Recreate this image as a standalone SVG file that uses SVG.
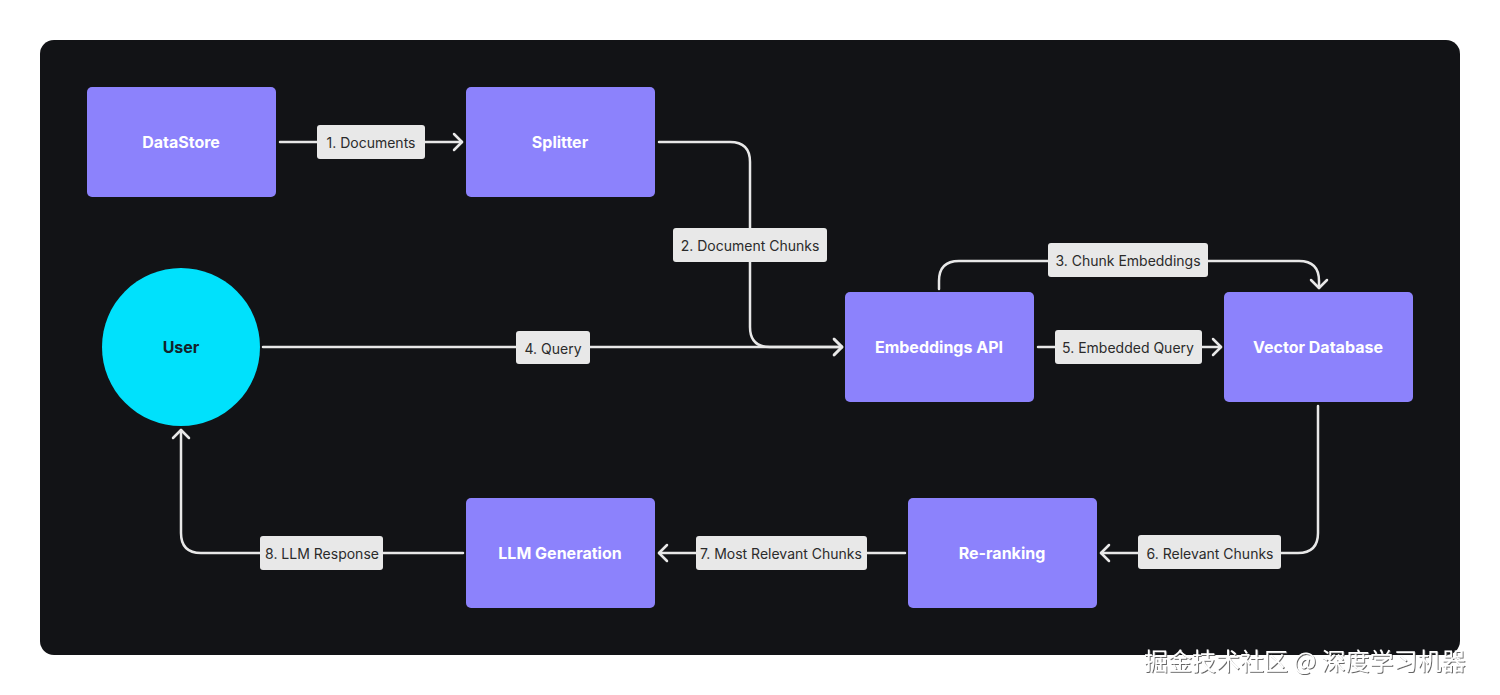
<svg xmlns="http://www.w3.org/2000/svg" width="1500" height="695" viewBox="0 0 1500 695">
<defs>
<style>
.node rect{fill:#8c82fc}
.ntxt{font-family:Inter,"Liberation Sans",sans-serif;font-weight:700;font-size:16px;fill:#ffffff;text-anchor:middle;dominant-baseline:central}
.edge{fill:none;stroke:#e8e8e8;stroke-width:2.5;stroke-linecap:round;stroke-linejoin:round}
.lbl rect{fill:#e8e8e8}
.ltxt{font-family:Inter,"Liberation Sans",sans-serif;font-size:14px;fill:#2b2b2b;text-anchor:middle;dominant-baseline:central}
.wm{font-family:"Noto Sans CJK SC",sans-serif;font-size:24px;fill:#ffffff}
</style>
<marker id="arr" markerUnits="userSpaceOnUse" markerWidth="20" markerHeight="20" refX="12" refY="10" orient="auto">
<path d="M4,2 L12,10 L4,18" fill="none" stroke="#e8e8e8" stroke-width="2.5" stroke-linecap="round" stroke-linejoin="round"/>
</marker>
<filter id="sh" x="-5%" y="-20%" width="110%" height="140%">
<feDropShadow dx="1" dy="1" stdDeviation="0.6" flood-color="#555555" flood-opacity="0.9"/>
</filter>
</defs>
<rect width="1500" height="695" fill="#ffffff"/>
<rect x="40" y="40" width="1420" height="615" rx="14" fill="#121316"/>

<g id="connectors">
<path class="edge" d="M280,142 H462" marker-end="url(#arr)"/>
<path class="edge" d="M659,142 H730 Q750,142 750,162 V327 Q750,347 770,347 H842" marker-end="url(#arr)"/>
<path class="edge" d="M263,347 H842" marker-end="url(#arr)"/>
<path class="edge" d="M939,289 V281 Q939,261 959,261 H1299 Q1319,261 1319,281 V288" marker-end="url(#arr)"/>
<path class="edge" d="M1038,347 H1221" marker-end="url(#arr)"/>
<path class="edge" d="M1318,406 V533 Q1318,553 1298,553 H1101" marker-end="url(#arr)"/>
<path class="edge" d="M905,553 H659" marker-end="url(#arr)"/>
<path class="edge" d="M463,553 H201 Q181,553 181,533 V430" marker-end="url(#arr)"/>
<g class="lbl"><rect x="317" y="125" width="108" height="34" rx="3"/><text class="ltxt" x="371" y="142">1. Documents</text></g>
<g class="lbl"><rect x="673" y="228" width="154" height="34" rx="3"/><text class="ltxt" x="750" y="245">2. Document Chunks</text></g>
<g class="lbl"><rect x="1048" y="243" width="160" height="34" rx="3"/><text class="ltxt" x="1128" y="260">3. Chunk Embeddings</text></g>
<g class="lbl"><rect x="516" y="331" width="74" height="33" rx="3"/><text class="ltxt" x="553" y="348">4. Query</text></g>
<g class="lbl"><rect x="1055" y="330" width="147" height="34" rx="3"/><text class="ltxt" x="1128" y="347">5. Embedded Query</text></g>
<g class="lbl"><rect x="1138" y="535" width="143" height="34" rx="3"/><text class="ltxt" x="1210" y="553">6. Relevant Chunks</text></g>
<g class="lbl"><rect x="696" y="536" width="171" height="34" rx="3"/><text class="ltxt" x="781" y="553">7. Most Relevant Chunks</text></g>
<g class="lbl"><rect x="260" y="536" width="123" height="34" rx="3"/><text class="ltxt" x="322" y="553">8. LLM Response</text></g>
</g>

<g id="datastore" class="node"><rect x="87" y="87" width="189" height="110" rx="5"/><text class="ntxt" x="181" y="142">DataStore</text></g>
<g id="splitter" class="node"><rect x="466" y="87" width="189" height="110" rx="5"/><text class="ntxt" x="560" y="142">Splitter</text></g>
<g id="user"><circle cx="181" cy="347" r="79" fill="#00e1fc"/><text class="ntxt" x="181" y="347" style="fill:#13232b">User</text></g>
<g id="embeddings" class="node"><rect x="845" y="292" width="189" height="110" rx="5"/><text class="ntxt" x="939" y="347">Embeddings API</text></g>
<g id="vectordb" class="node"><rect x="1224" y="292" width="189" height="110" rx="5"/><text class="ntxt" x="1318" y="347">Vector Database</text></g>
<g id="reranking" class="node"><rect x="908" y="498" width="189" height="110" rx="5"/><text class="ntxt" x="1002" y="553">Re-ranking</text></g>
<g id="llm" class="node"><rect x="466" y="498" width="189" height="110" rx="5"/><text class="ntxt" x="560" y="553">LLM Generation</text></g>

<text class="wm" x="1144" y="670" filter="url(#sh)">掘金技术社区 @ 深度学习机器</text>
</svg>
